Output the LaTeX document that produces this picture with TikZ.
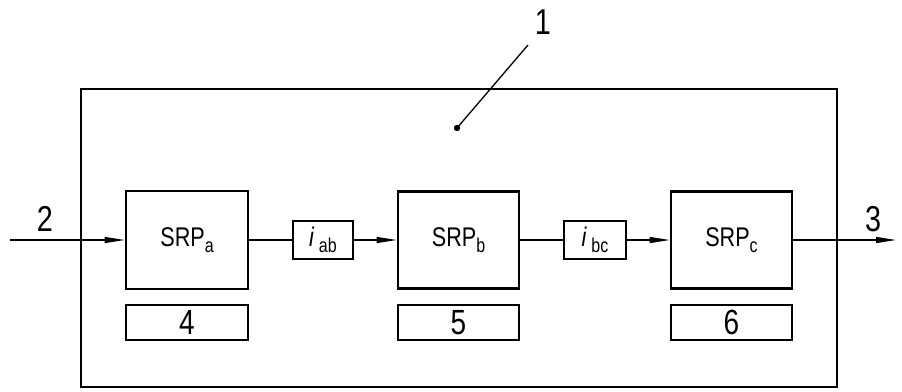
\documentclass[tikz,border=0pt]{standalone}
\usepackage{fontspec}
\setsansfont{Liberation Sans}[FakeStretch=0.8]
\usetikzlibrary{arrows.meta}
\newcommand{\sbx}[1]{\raisebox{-6pt}{\fontsize{20}{22}\selectfont #1}}
\begin{document}
\begin{tikzpicture}[x=1pt,y=-1pt,
  thickbox/.style={draw,line width=2.6pt,inner sep=0pt,font=\sffamily\fontsize{27}{30}\selectfont},
  digbox/.style={thickbox,minimum height=35pt,font=\sffamily\fontsize{35}{36}\selectfont},
  conn/.style={line width=1.3pt},
  arr/.style={conn,-{Triangle[length=20pt,width=6pt]}},
  lbl/.style={inner sep=0pt,font=\sffamily\fontsize{36}{40}\selectfont}]
\useasboundingbox (0,0) rectangle (902,391);
\node[draw,line width=2.4pt,minimum width=756pt,minimum height=298pt,inner sep=0pt] (outer) at (459,238) {};
\node[thickbox,minimum width=122pt,minimum height=98pt] (a) at (187,240) {SRP\sbx{a}};
\node[thickbox,minimum width=121pt,minimum height=97pt] (b) at (458.5,240) {SRP\sbx{b}};
\node[thickbox,minimum width=121pt,minimum height=97pt] (c) at (731.5,240) {SRP\sbx{c}};
\node[digbox,minimum width=122pt] (n4) at (187,322.5) {4};
\node[digbox,minimum width=121pt] (n5) at (458.5,322.5) {5};
\node[digbox,minimum width=121pt] (n6) at (731.5,322.5) {6};
\node[thickbox,minimum width=60pt,minimum height=38pt] (iab) at (323,240) {\textit{i}\,\sbx{ab}};
\node[thickbox,minimum width=62pt,minimum height=38pt] (ibc) at (595,240) {\textit{i}\,\sbx{bc}};
\coordinate (in) at (10,240);
\coordinate (out) at (896,240);
\draw[arr] (in) -- (a.west);
\draw[conn] (a.east) -- (iab.west);
\draw[arr] (iab.east) -- (b.west);
\draw[conn] (b.east) -- (ibc.west);
\draw[arr] (ibc.east) -- (c.west);
\draw[arr] (c.east) -- (out);
\node[lbl] (l2) at (45,219) {2};
\node[lbl] (l3) at (873,219) {3};
\node[lbl] (l1) at (543,22) {1};
\coordinate (dot) at (457,128);
\coordinate (lead) at (528,45);
\fill (dot) circle (3.2pt);
\draw[conn] (dot) -- (lead);
\end{tikzpicture}
\end{document}
